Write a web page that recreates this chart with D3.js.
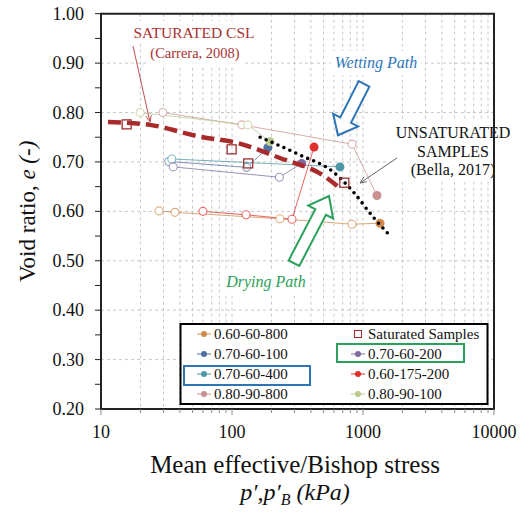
<!DOCTYPE html>
<html><head><meta charset="utf-8">
<script src="https://cdn.jsdelivr.net/npm/d3@7"></script>
<style>body{margin:0;background:#fff}svg{display:block}
text{font-family:"Liberation Serif","Times New Roman",Times,serif}</style>
</head><body><svg id="c" width="521" height="513"></svg>
<script>
// ---------- data ----------
const xTickValues = [10, 100, 1000, 10000];
const yTickValues = [0.20, 0.30, 0.40, 0.50, 0.60, 0.70, 0.80, 0.90, 1.00];

const s_060_60_800  = [[27.7,0.601],[36.7,0.598],[232,0.585],[824,0.574],[1349,0.576]];
const s_070_60_100  = [[32.9,0.701],[129.5,0.689],[188,0.729]];
const s_070_60_400  = [[34.7,0.706],[667,0.690]];
const s_080_90_800  = [[29.7,0.800],[119,0.775],[824,0.736],[1279,0.632]];
const s_070_60_200  = [[35.6,0.690],[230,0.669],[340,0.697]];
const s_060_175_200 = [[60,0.600],[128,0.593],[287,0.584],[423,0.730]];
const s_080_90_100  = [[19.9,0.800],[132,0.775],[195,0.741]];
const saturatedSamples = [[15.7,0.776],[99.4,0.7255],[133,0.697],[720,0.658]];
const csl = [[11.3,0.781],[23.7,0.775],[57,0.751],[111,0.738],[232,0.708],[495,0.673],[667,0.647]];
const unsaturatedLine = [[164,0.750],[330,0.714],[590,0.680],[839,0.640],[1191,0.589],[1552,0.555]];

const seriesNames  = ["0.60-60-800","0.70-60-100","0.70-60-400","0.80-90-800","0.70-60-200","0.60-175-200","0.80-90-100"];
const seriesData   = [s_060_60_800, s_070_60_100, s_070_60_400, s_080_90_800, s_070_60_200, s_060_175_200, s_080_90_100];
const seriesColors = ["#cf8a4c","#4f6f9f","#4b97a6","#c99190","#7d6aa0","#e0302e","#b9c98f"];

// annotation arrows, in data units [p, e]
const wettingArrow = [[1018,0.858],[644,0.754]];
const dryingArrow  = [[297,0.495],[550,0.631]];

// ---------- layout ----------
const L = 101, R = 494, T = 13.7, B = 409;
const x = d3.scaleLog().domain([10, 10000]).range([L, R]);
const y = d3.scaleLinear().domain([0.2, 1.0]).range([B, T]);
const svg = d3.select("#c");

const minorX = [];
for (let d = 10; d < 10000; d *= 10) for (let k = 1; k <= 9; k++) minorX.push(d * k);
minorX.push(10000);

// grid
const g = svg.append("g");
g.selectAll("line.vx").data(minorX.filter(v => v > 10 && v < 10000)).join("line")
  .attr("x1", d => x(d)).attr("x2", d => x(d)).attr("y1", T).attr("y2", B)
  .attr("stroke", "#c8c8c8").attr("stroke-width", 1).attr("stroke-dasharray", "3,3");
g.selectAll("line.hy").data(yTickValues.filter(v => v > 0.21 && v < 0.99)).join("line")
  .attr("x1", L).attr("x2", R).attr("y1", d => y(d)).attr("y2", d => y(d))
  .attr("stroke", "#c8c8c8").attr("stroke-width", 1).attr("stroke-dasharray", "3,3");

const ann = svg.append("g");

const line = d3.line().x(d => x(d[0])).y(d => y(d[1]));
const curve = d3.line().x(d => x(d[0])).y(d => y(d[1])).curve(d3.curveMonotoneX);

const sg = svg.append("g");
seriesData.forEach((s, i) => {
  sg.append("path").attr("d", line(s)).attr("fill", "none")
    .attr("stroke", seriesColors[i]).attr("stroke-opacity", 0.75).attr("stroke-width", 1);
});

svg.append("path").attr("d", curve(csl)).attr("fill", "none")
  .attr("stroke", "#a82a2a").attr("stroke-width", 4.5).attr("stroke-dasharray", "13,6");
svg.append("path").attr("d", curve(unsaturatedLine)).attr("fill", "none")
  .attr("stroke", "#000").attr("stroke-width", 3.6).attr("stroke-linecap", "round")
  .attr("stroke-dasharray", "0,6.5");

seriesData.forEach((s, i) => {
  const n = s.length;
  sg.selectAll(null).data(s.slice(0, n - 1)).join("circle")
    .attr("cx", d => x(d[0])).attr("cy", d => y(d[1])).attr("r", 4)
    .attr("fill", "#fff").attr("stroke", seriesColors[i]).attr("stroke-opacity", 0.7).attr("stroke-width", 1.1);
  sg.append("circle").attr("cx", x(s[n-1][0])).attr("cy", y(s[n-1][1])).attr("r", 4.5)
    .attr("fill", seriesColors[i]);
});
svg.selectAll("rect.sat").data(saturatedSamples).join("rect")
  .attr("x", d => x(d[0]) - 4.5).attr("y", d => y(d[1]) - 4.5).attr("width", 9).attr("height", 9)
  .attr("fill", "none").attr("stroke", "#9e3030").attr("stroke-width", 1.3);

function arrowPath(a, b, w, hw, hl) {
  const x0 = x(a[0]), y0 = y(a[1]), x1 = x(b[0]), y1 = y(b[1]);
  const len = Math.hypot(x1 - x0, y1 - y0), ux = (x1 - x0) / len, uy = (y1 - y0) / len;
  const nx = -uy, ny = ux, bx = x1 - ux * hl, by = y1 - uy * hl;
  const p = [[x0 + nx*w, y0 + ny*w],[bx + nx*w, by + ny*w],[bx + nx*hw, by + ny*hw],[x1, y1],
             [bx - nx*hw, by - ny*hw],[bx - nx*w, by - ny*w],[x0 - nx*w, y0 - ny*w]];
  return "M" + p.map(q => q.join(",")).join("L") + "Z";
}
svg.append("path").attr("d", arrowPath(wettingArrow[0], wettingArrow[1], 6, 14, 17))
  .attr("fill", "#fff").attr("stroke", "#2e75b6").attr("stroke-width", 2);
svg.append("path").attr("d", arrowPath(dryingArrow[0], dryingArrow[1], 6, 14, 18))
  .attr("fill", "#fff").attr("stroke", "#2aa05a").attr("stroke-width", 2);

function textBlock(lines, cx, y0, dy, size, color, italic) {
  const gg = svg.append("g");
  lines.forEach((t, i) => gg.append("text").attr("x", cx).attr("y", y0 + i * dy)
    .attr("text-anchor", "middle").attr("font-size", size).attr("fill", color)
    .attr("font-style", italic ? "italic" : "normal").text(t));
  const bb = gg.node().getBBox();
  ann.append("rect").attr("x", bb.x - 4).attr("y", bb.y - 3).attr("width", bb.width + 8).attr("height", bb.height + 6).attr("fill", "#fff");
  return gg;
}
textBlock(["SATURATED CSL"], 194, 38, 0, 15.5, "#a83232", false);
textBlock(["(Carrera, 2008)"], 195, 58, 0, 14.5, "#a83232", false);
textBlock(["Wetting Path"], 376, 68, 0, 16, "#2e75b6", true);
textBlock(["UNSATURATED", "SAMPLES", "(Bella, 2017)"], 453, 138, 18.5, 16, "#111", false);
textBlock(["Drying Path"], 266, 287, 0, 16, "#2aa05a", true);

function pointer(x1, y1, x2, y2, color) {
  svg.append("line").attr("x1", x1).attr("y1", y1).attr("x2", x2).attr("y2", y2)
    .attr("stroke", color).attr("stroke-width", 1);
  const a = Math.atan2(y2 - y1, x2 - x1), h = 7, s = 0.4;
  svg.append("path").attr("d", `M${x2 - h*Math.cos(a - s)},${y2 - h*Math.sin(a - s)}L${x2},${y2}L${x2 - h*Math.cos(a + s)},${y2 - h*Math.sin(a + s)}`)
    .attr("fill", "none").attr("stroke", color).attr("stroke-width", 1);
}
pointer(133, 46, 150, 122, "#c0504d");
pointer(397, 158, 360, 183, "#666");

// legend
const leg = svg.append("g");
leg.append("rect").attr("x", 180.5).attr("y", 324).attr("width", 307).attr("height", 80)
  .attr("fill", "#fff").attr("stroke", "#000").attr("stroke-width", 2);
const legendItems = [
  {name: seriesNames[0], col: 0, row: 0, ci: 0},
  {name: seriesNames[1], col: 0, row: 1, ci: 1},
  {name: seriesNames[2], col: 0, row: 2, ci: 2},
  {name: seriesNames[3], col: 0, row: 3, ci: 3},
  {name: "Saturated Samples", col: 1, row: 0, ci: -1},
  {name: seriesNames[4], col: 1, row: 1, ci: 4},
  {name: seriesNames[5], col: 1, row: 2, ci: 5},
  {name: seriesNames[6], col: 1, row: 3, ci: 6}
];
const colX = [204, 358], rowY = [334, 354, 374, 394];
legendItems.forEach(it => {
  const cx = colX[it.col], cy = rowY[it.row];
  if (it.ci >= 0) {
    leg.append("line").attr("x1", cx - 7).attr("x2", cx + 7).attr("y1", cy).attr("y2", cy)
      .attr("stroke", seriesColors[it.ci]).attr("stroke-width", 1);
    leg.append("circle").attr("cx", cx).attr("cy", cy).attr("r", 3).attr("fill", seriesColors[it.ci]);
  } else {
    leg.append("rect").attr("x", cx - 3.5).attr("y", cy - 3.5).attr("width", 7).attr("height", 7)
      .attr("fill", "none").attr("stroke", "#9e3030").attr("stroke-width", 1.1);
  }
  leg.append("text").attr("x", cx + 10).attr("y", cy + 5).attr("font-size", 15).attr("fill", "#111").text(it.name);
});
leg.append("rect").attr("x", 184).attr("y", 366).attr("width", 126).attr("height", 19)
  .attr("fill", "none").attr("stroke", "#2e75b6").attr("stroke-width", 2);
leg.append("rect").attr("x", 337).attr("y", 344).attr("width", 127).attr("height", 18)
  .attr("fill", "none").attr("stroke", "#2aa05a").attr("stroke-width", 2);

// axes
const ax = svg.append("g");
ax.append("path").attr("d", `M${L},${T}H${R}V${B}H${L}Z`).attr("fill", "none").attr("stroke", "#222").attr("stroke-width", 2);
ax.selectAll("line.xt").data(minorX).join("line")
  .attr("x1", d => x(d)).attr("x2", d => x(d)).attr("y1", B).attr("y2", d => xTickValues.includes(d) ? B + 6 : B + 4)
  .attr("stroke", "#888").attr("stroke-width", 1);
ax.selectAll("text.xl").data(xTickValues).join("text")
  .attr("x", d => x(d)).attr("y", 438).attr("text-anchor", "middle").attr("font-size", 18).attr("fill", "#111").text(d => d);
const yMinor = d3.range(0.25, 1.0, 0.1);
ax.selectAll("line.yt").data(yTickValues.concat(yMinor)).join("line")
  .attr("x1", L - 6).attr("x2", L).attr("y1", d => y(d)).attr("y2", d => y(d))
  .attr("stroke", "#222").attr("stroke-width", 1);
ax.selectAll("text.yl").data(yTickValues).join("text")
  .attr("x", 84).attr("y", d => y(d) + 6).attr("text-anchor", "end").attr("font-size", 18).attr("fill", "#111")
  .text(d => d.toFixed(2));

const yt = svg.append("text").attr("transform", `translate(35,${(T + B) / 2}) rotate(-90)`)
  .attr("text-anchor", "middle").attr("font-size", 23).attr("fill", "#111");
yt.append("tspan").text("Void ratio, ");
yt.append("tspan").attr("font-style", "italic").text("e (-)");

svg.append("text").attr("x", 295).attr("y", 473).attr("text-anchor", "middle").attr("font-size", 25)
  .attr("fill", "#111").text("Mean effective/Bishop stress");
const xt2 = svg.append("text").attr("x", 295).attr("y", 500).attr("text-anchor", "middle").attr("font-size", 24)
  .attr("fill", "#111").attr("font-style", "italic");
xt2.append("tspan").text("p′,p′");
xt2.append("tspan").attr("font-size", 16).attr("dy", 5).text("B");
xt2.append("tspan").attr("dy", -5).text(" (kPa)");
</script></body></html>
